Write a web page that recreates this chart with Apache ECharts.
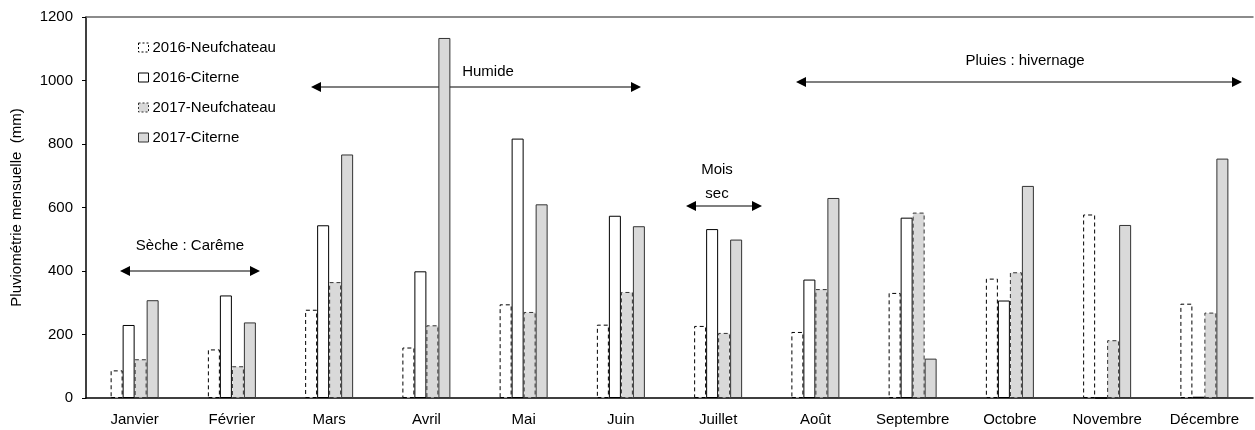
<!DOCTYPE html>
<html>
<head>
<meta charset="utf-8">
<script src="https://cdn.jsdelivr.net/npm/echarts@6/dist/echarts.min.js"></script>
<style>
  html, body { margin: 0; padding: 0; background: #fff; }
  #main { width: 1255px; height: 430px; }
</style>
</head>
<body>
<div id="main"></div>
<script>
var mois = ['Janvier', 'Février', 'Mars', 'Avril', 'Mai', 'Juin', 'Juillet', 'Août', 'Septembre', 'Octobre', 'Novembre', 'Décembre'];

// pluviométrie mensuelle (mm)
var neuf2016 = [87, 153, 278, 159, 295, 231, 227, 208, 331, 376, 578, 297];
var cit2016  = [230, 323, 544, 399, 817, 574, 532, 373, 568, 307, 0, 4];
var neuf2017 = [122, 100, 365, 229, 271, 334, 205, 343, 584, 396, 182, 269];
var cit2017  = [308, 238, 767, 1134, 610, 541, 499, 630, 124, 668, 545, 754];

var yTicks = [0, 200, 400, 600, 800, 1000, 1200];

var font = 'Liberation Sans, Arial, sans-serif';
var dash = [4, 3];

// fleche double horizontale (annotations)
function arrow(x1, x2, y) {
  return [
    { type: 'line', shape: { x1: x1 + 8, y1: y, x2: x2 - 8, y2: y }, style: { stroke: '#000', lineWidth: 1.2 } },
    { type: 'polygon', shape: { points: [[x1, y], [x1 + 10, y - 5], [x1 + 10, y + 5]] }, style: { fill: '#000' } },
    { type: 'polygon', shape: { points: [[x2, y], [x2 - 10, y - 5], [x2 - 10, y + 5]] }, style: { fill: '#000' } }
  ];
}
function label(txt, x, y) {
  return { type: 'text', x: x, y: y, style: { text: txt, font: '15px ' + font, fill: '#000', textAlign: 'center', textVerticalAlign: 'middle' } };
}

var graphics = []
  .concat(arrow(120, 260, 271)).concat([label('Sèche : Carême', 190, 246)])
  .concat(arrow(311, 641, 87)).concat([label('Humide', 488, 72)])
  .concat(arrow(686, 762, 206)).concat([label('Mois', 717, 170), label('sec', 717, 194)])
  .concat(arrow(796, 1242, 82)).concat([label('Pluies : hivernage', 1025, 61)]);

function serie(name, data, fill, border, dashed) {
  return {
    name: name,
    type: 'bar',
    data: data,
    barWidth: 12,
    barGap: '0%',
    itemStyle: {
      color: fill,
      borderColor: border,
      borderWidth: 1,
      borderType: dashed ? dash : 'solid'
    },
    emphasis: { disabled: true }
  };
}

function legendItem(name, fill, border, dashed) {
  return {
    name: name,
    icon: 'rect',
    itemStyle: { color: fill, borderColor: border, borderWidth: 1, borderType: dashed ? [2, 2] : 'solid' }
  };
}

var chart = echarts.init(document.getElementById('main'));
chart.setOption({
  animation: false,
  textStyle: { fontFamily: font },
  grid: { left: 86, right: 2, top: 17, bottom: 32 },
  legend: {
    orient: 'vertical',
    left: 133,
    top: 35,
    itemWidth: 10,
    itemHeight: 9,
    itemGap: 15,
    textStyle: { fontSize: 15, color: '#000', padding: [0, 0, 0, -1] },
    data: [
      legendItem('2016-Neufchateau', '#ffffff', '#000', true),
      legendItem('2016-Citerne', '#ffffff', '#000', false),
      legendItem('2017-Neufchateau', '#d9d9d9', '#333', true),
      legendItem('2017-Citerne', '#d9d9d9', '#333', false)
    ]
  },
  xAxis: [
    {
      type: 'category',
      data: mois,
      axisLine: { lineStyle: { color: '#000', width: 1.5 } },
      axisTick: { show: false },
      axisLabel: { color: '#000', fontSize: 15, margin: 14 }
    },
    {
      type: 'category',
      position: 'top',
      data: mois,
      axisLine: { lineStyle: { color: '#666', width: 1.5 } },
      axisTick: { show: false },
      axisLabel: { show: false }
    }
  ],
  yAxis: {
    type: 'value',
    min: yTicks[0],
    max: yTicks[yTicks.length - 1],
    interval: 200,
    name: 'Pluviométrie mensuelle  (mm)',
    nameLocation: 'middle',
    nameGap: 62,
    nameTextStyle: { fontSize: 15, color: '#000' },
    axisLine: { show: true, lineStyle: { color: '#000', width: 1.5 } },
    axisTick: { show: true, length: 4, lineStyle: { color: '#000' } },
    axisLabel: { color: '#000', fontSize: 15, margin: 13, formatter: function (v) { return String(v); } },
    splitLine: { show: false }
  },
  series: [
    serie('2016-Neufchateau', neuf2016, '#ffffff', '#000', true),
    serie('2016-Citerne', cit2016, '#ffffff', '#000', false),
    serie('2017-Neufchateau', neuf2017, '#d9d9d9', '#333', true),
    serie('2017-Citerne', cit2017, '#d9d9d9', '#333', false)
  ],
  graphic: graphics
});
</script>
</body>
</html>
